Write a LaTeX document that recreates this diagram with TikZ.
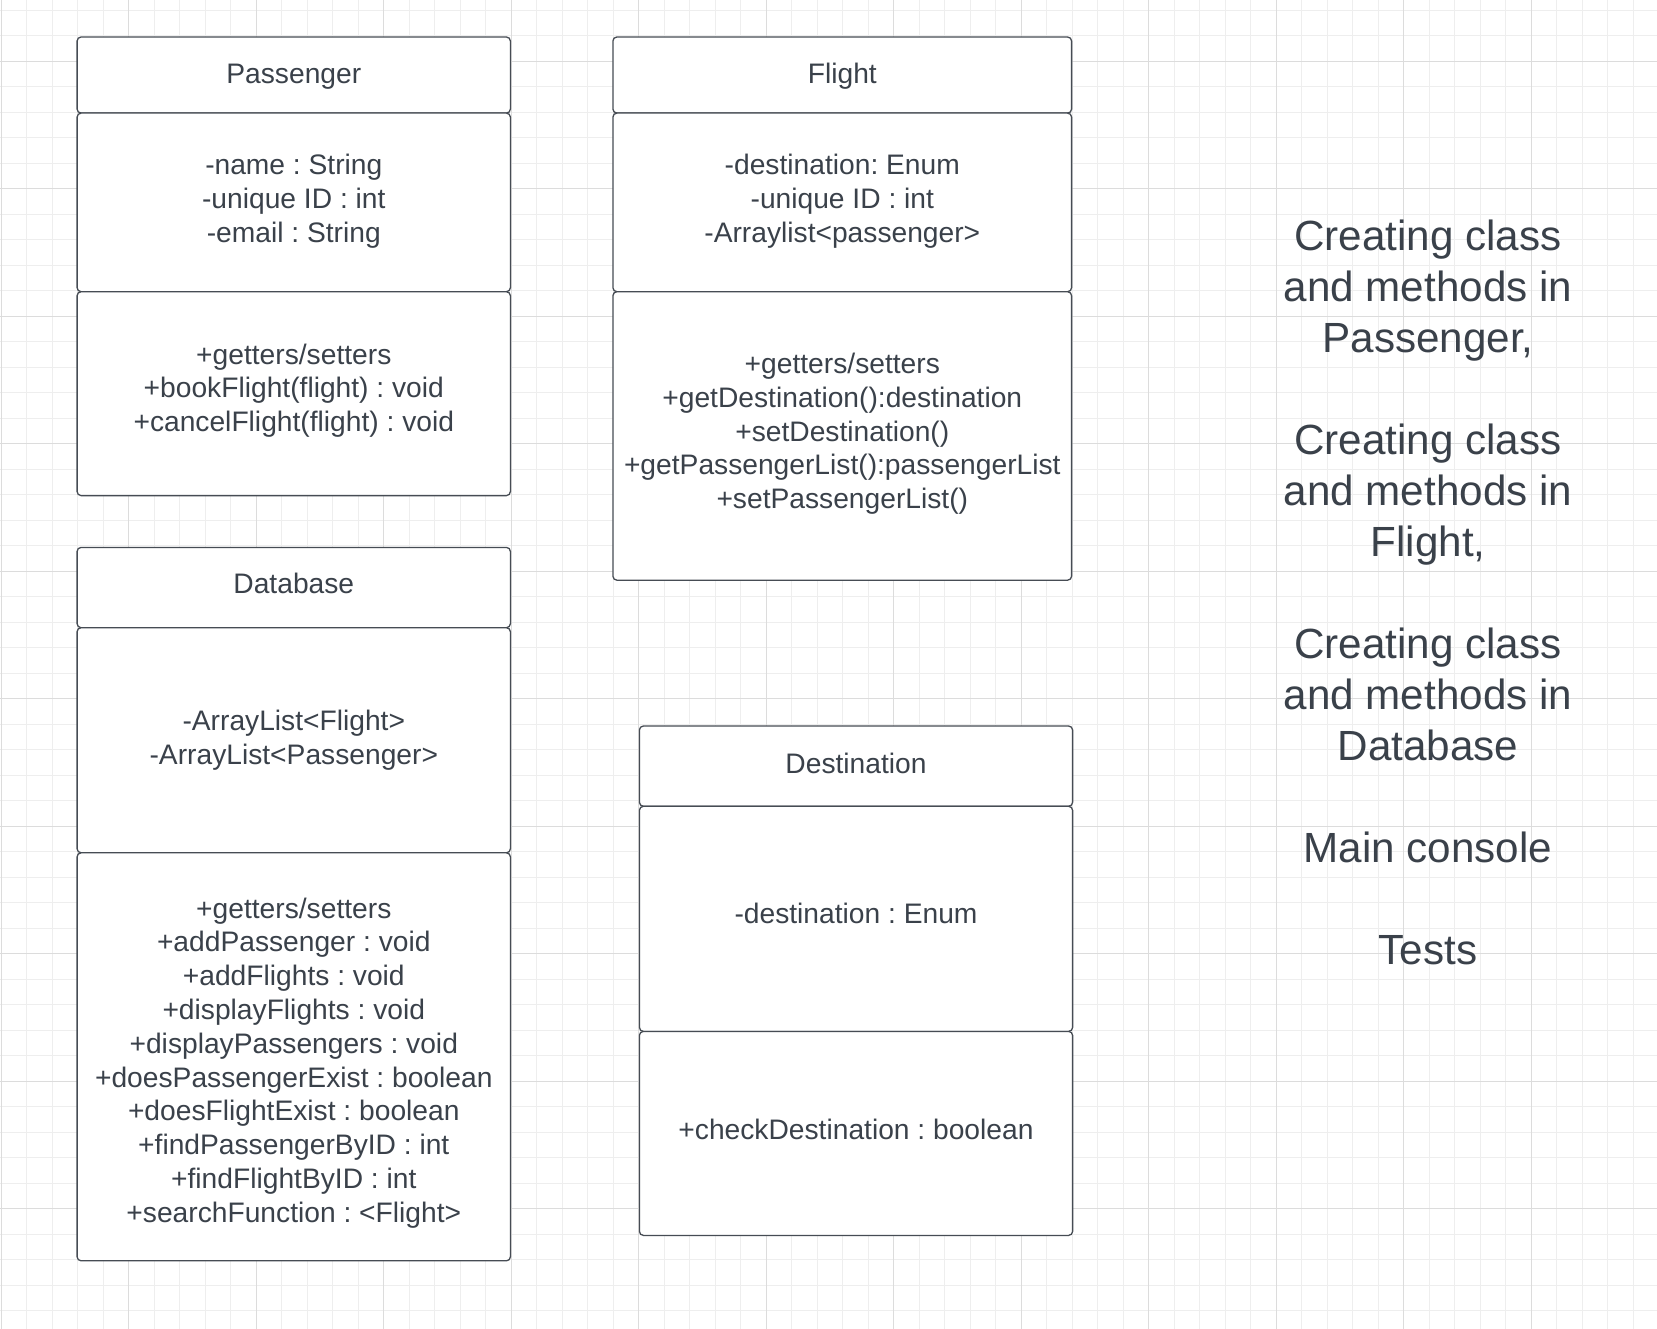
\documentclass[tikz,border=0pt]{standalone}
\usepackage{fontspec}
\setmainfont{Liberation Sans}
\frenchspacing
\definecolor{ink}{RGB}{58,65,74}
\definecolor{edgecol}{RGB}{70,76,84}
\definecolor{gridminor}{RGB}{238,238,238}
\definecolor{gridmajor}{RGB}{220,220,220}
\begin{document}
\begin{tikzpicture}[x=1pt,y=-1pt,
  compart/.style={draw=edgecol, line width=1.3pt, fill=white, rounded corners=4pt,
                  anchor=north west, inner sep=0pt, outer sep=0pt},
  boxtext/.style={text=ink, align=center, inner sep=0pt,
                  font=\fontsize{28.2}{33.8}\selectfont\frenchspacing},
  notetext/.style={text=ink, align=center, inner sep=0pt,
                  font=\fontsize{42.2}{51}\selectfont\frenchspacing}]
\useasboundingbox (0,0) rectangle (1657,1329);
\fill[white] (0,0) rectangle (1657,1329);
% grid
\foreach \i in {0,...,64} \draw[gridminor, line width=1pt] ({1.2+25.5*\i},0) -- ({1.2+25.5*\i},1329);
\foreach \j in {0,...,51} \draw[gridminor, line width=1pt] (0,{10.3+25.5*\j}) -- (1657,{10.3+25.5*\j});
\foreach \i in {0,...,12} \draw[gridmajor, line width=1pt] ({1.2+127.5*\i},0) -- ({1.2+127.5*\i},1329);
\foreach \j in {0,...,9} \draw[gridmajor, line width=1pt] (0,{61.3+127.5*\j}) -- (1657,{61.3+127.5*\j});

% Passenger
\node[compart, minimum width=433.3pt, minimum height=76.1pt]  (phead) at (77.1,37) {};
\node[compart, minimum width=433.3pt, minimum height=178.6pt] (pattr) at (77.1,113.1) {};
\node[compart, minimum width=433.3pt, minimum height=203.9pt] (pmeth) at (77.1,291.7) {};
\node[boxtext] (pheadt) at (293.8,76.3) {\strut Passenger};
\node[boxtext] (pattrt) at (293.8,201.9) {\strut -name : String\\\strut -unique ID : int\\\strut -email : String};
\node[boxtext] (pmetht) at (293.8,391.1) {\strut +getters/setters\\\strut +bookFlight(flight) : void\\\strut +cancelFlight(flight) : void};

% Flight
\node[compart, minimum width=458.7pt, minimum height=76.1pt]  (fhead) at (612.9,37) {};
\node[compart, minimum width=458.7pt, minimum height=178.6pt] (fattr) at (612.9,113.1) {};
\node[compart, minimum width=458.7pt, minimum height=288.5pt] (fmeth) at (612.9,291.7) {};
\node[boxtext] (fheadt) at (842.3,76.3) {\strut Flight};
\node[boxtext] (fattrt) at (842.3,201.9) {\strut -destination: Enum\\\strut -unique ID : int\\\strut -Arraylist<passenger>};
\node[boxtext] (fmetht) at (842.3,434.4) {\strut +getters/setters\\\strut +getDestination():destination\\\strut +setDestination()\\\strut +getPassengerList():passengerList\\\strut +setPassengerList()};

% Database
\node[compart, minimum width=433.3pt, minimum height=80.3pt]  (dhead) at (77.1,547.4) {};
\node[compart, minimum width=433.3pt, minimum height=225.1pt] (dattr) at (77.1,627.7) {};
\node[compart, minimum width=433.3pt, minimum height=408pt]   (dmeth) at (77.1,852.8) {};
\node[boxtext] (dheadt) at (293.8,586.6) {\strut Database};
\node[boxtext] (dattrt) at (293.8,740.9) {\strut -ArrayList<Flight>\\\strut -ArrayList<Passenger>};
\node[boxtext] (dmetht) at (293.8,1063.4) {\strut +getters/setters\\\strut +addPassenger : void\\\strut +addFlights : void\\\strut +displayFlights : void\\\strut +displayPassengers : void\\\strut +doesPassengerExist : boolean\\\strut +doesFlightExist : boolean\\\strut +findPassengerByID : int\\\strut +findFlightByID : int\\\strut +searchFunction : <Flight>};

% Destination
\node[compart, minimum width=433.2pt, minimum height=80.3pt]  (ehead) at (639.4,726) {};
\node[compart, minimum width=433.2pt, minimum height=225.1pt] (eattr) at (639.4,806.3) {};
\node[compart, minimum width=433.2pt, minimum height=204pt]   (emeth) at (639.4,1031.4) {};
\node[boxtext] (eheadt) at (856,766.3) {\strut Destination};
\node[boxtext] (eattrt) at (856,916.3) {\strut -destination : Enum};
\node[boxtext] (emetht) at (856,1133) {\strut +checkDestination : boolean};

% Note text
\node[notetext] (note) at (1428,597.2) {\strut Creating class\\\strut and methods in\\\strut Passenger,\\\strut\\\strut Creating class\\\strut and methods in\\\strut Flight,\\\strut\\\strut Creating class\\\strut and methods in\\\strut Database\\\strut\\\strut Main console\\\strut\\\strut Tests};
\end{tikzpicture}
\end{document}
